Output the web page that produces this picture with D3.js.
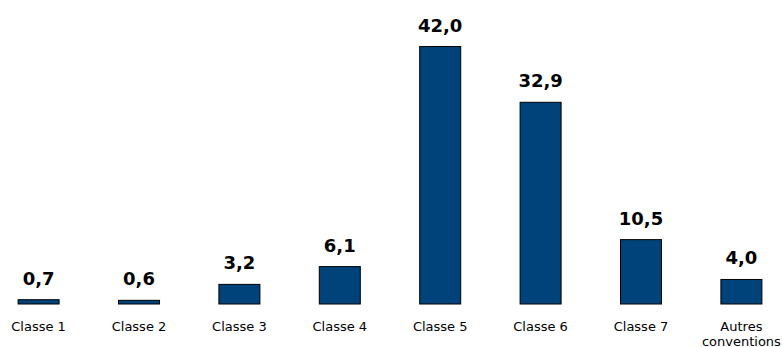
<!DOCTYPE html>
<html><head><meta charset="utf-8">
<script src="https://cdn.jsdelivr.net/npm/d3@7"></script>
<style>html,body{margin:0;padding:0;background:#fff;}svg{display:block;}</style>
</head><body>
<script>
const categories = ["Classe 1","Classe 2","Classe 3","Classe 4","Classe 5","Classe 6","Classe 7","Autres conventions"];
const values = [0.7, 0.6, 3.2, 6.1, 42.0, 32.9, 10.5, 4.0];
const valueLabels = ["0,7","0,6","3,2","6,1","42,0","32,9","10,5","4,0"];

const W = 782, H = 347;
const svg = d3.select("body").append("svg").attr("width", W).attr("height", H);

const x = d3.scalePoint().domain(categories).range([38.6, 741.4]);
const barW = 41;
const y = d3.scaleLinear().domain([0, 42]).range([304, 46.5]);

const data = categories.map((c, i) => ({c, v: values[i], l: valueLabels[i]}));

svg.selectAll("rect.bar").data(data).enter().append("rect")
  .attr("class", "bar")
  .attr("x", d => x(d.c) - barW / 2)
  .attr("y", d => y(d.v))
  .attr("width", barW)
  .attr("height", d => y(0) - y(d.v))
  .attr("fill", "#00427a")
  .attr("stroke", "#000")
  .attr("stroke-width", 1);

svg.selectAll("text.val").data(data).enter().append("text")
  .attr("class", "val")
  .attr("x", d => x(d.c))
  .attr("y", d => y(d.v) - 15)
  .attr("text-anchor", "middle")
  .attr("font-family", "DejaVu Sans, Verdana, sans-serif")
  .attr("font-weight", "bold")
  .attr("font-size", "18px")
  .attr("fill", "#000")
  .text(d => d.l);

const cat = svg.selectAll("text.cat").data(data).enter().append("text")
  .attr("class", "cat")
  .attr("x", d => x(d.c))
  .attr("y", 331)
  .attr("text-anchor", "middle")
  .attr("font-family", "DejaVu Sans, Verdana, sans-serif")
  .attr("font-size", "13px")
  .attr("fill", "#000");

cat.each(function(d) {
  const words = d.c === "Autres conventions" ? ["Autres", "conventions"] : [d.c];
  const t = d3.select(this);
  words.forEach((w, i) => {
    t.append("tspan").attr("x", x(d.c)).attr("dy", i === 0 ? 0 : 15).text(w);
  });
});
</script>
</body></html>
